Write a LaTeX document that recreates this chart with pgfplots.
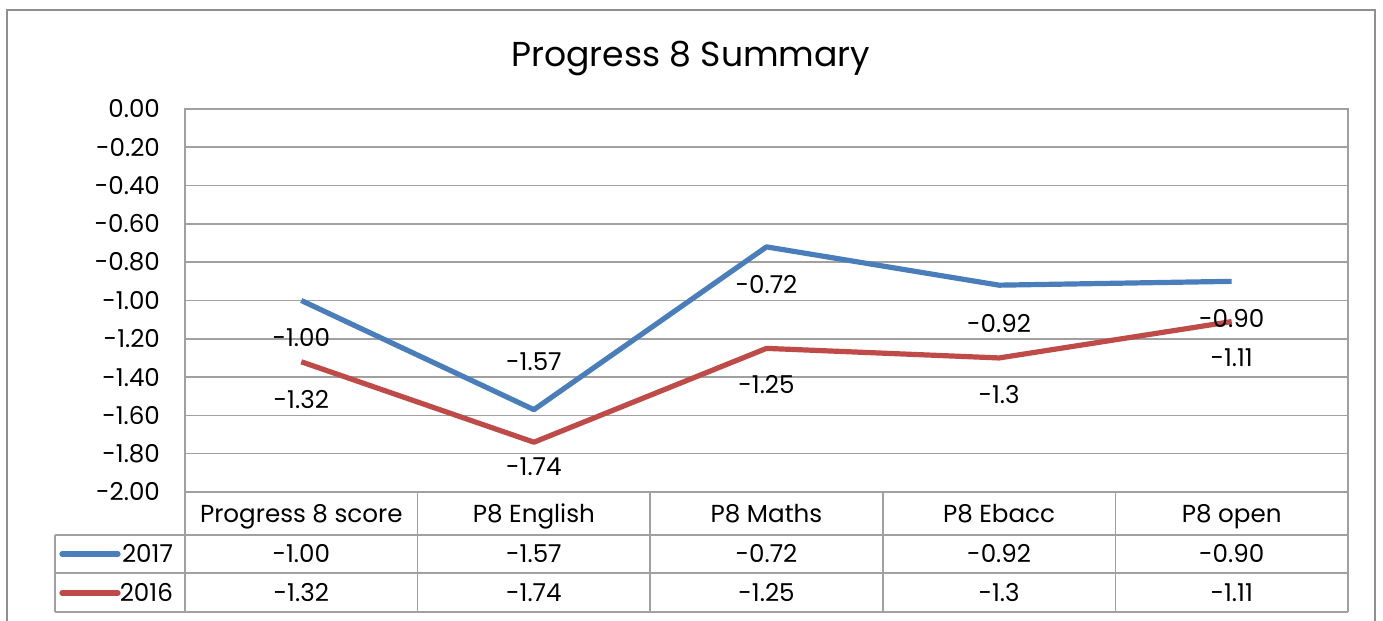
\documentclass[border=0pt]{standalone}
\usepackage{pgfplots}
\pgfplotsset{compat=1.18}
\usepackage{pgfplotstable}
\usepackage{fontspec}
\setmainfont{Poppins}
\definecolor{sblue}{HTML}{4A7EBB}
\definecolor{sred}{HTML}{BE4B48}
\definecolor{gridc}{HTML}{A0A0A0}
\newcommand{\lf}{\fontsize{12.3}{14}\selectfont}
\pgfplotstableread{
x y dy label
0 -1.00 -18.75 -1.00
1 -1.57 23.8 -1.57
2 -0.72 -19 -0.72
3 -0.92 -19 -0.92
4 -0.90 -18.8 -0.90
}\dataA
\pgfplotstableread{
x y dy label
0 -1.32 -19 -1.32
1 -1.74 -12 -1.74
2 -1.25 -18.3 -1.25
3 -1.3 -18.5 -1.3
4 -1.11 -18.2 -1.11
}\dataB
\begin{document}
\begin{tikzpicture}
\path[use as bounding box] (-92.5pt,-64.5pt) rectangle (599pt,246pt);
\draw[gridc!90!black, line width=0.8pt] (-89pt,-80pt) -- (-89pt,241pt) -- (595pt,241pt) -- (595pt,-80pt);
\begin{axis}[
  scale only axis, width=581.5pt, height=191.5pt,
  xmin=-0.5, xmax=4.5, ymin=-2, ymax=0,
  ytick={-2,-1.8,...,0.01},
  xtick={0,1,2,3,4},
  xticklabels={Progress 8 score, P8 English, P8 Maths, P8 Ebacc, P8 open},
  xticklabel style={anchor=base, yshift=-15.5pt, font=\lf},
  yticklabel style={anchor=east, xshift=-9pt, font=\lf},
  /pgf/number format/.cd, fixed, fixed zerofill, precision=2, assume math mode=true, /pgfplots/.cd,
  xmajorgrids=false, ymajorgrids=true,
  major grid style={draw=gridc, line width=0.8pt},
  axis line style={draw=gridc, line width=0.8pt},
  major tick length=0pt,
  clip=false,
  title={Progress 8 Summary},
  title style={font=\fontsize{17.3}{20}\selectfont, at={(0.435,1)}, anchor=south, yshift=7pt},
  point meta=explicit symbolic,
  nodes near coords,
  every node near coord/.append style={anchor=center, font=\lf, yshift=\dy pt, text=black},
  visualization depends on={\thisrow{dy} \as \dy},
]
\addplot[sblue, line width=2.6pt, line join=round] table[x=x, y=y, meta=label] {\dataA};
\addplot[sred, line width=2.6pt, line join=round] table[x=x, y=y, meta=label] {\dataB};
\end{axis}
\begin{scope}[x=0.5pt, y=0.5pt]
\draw[gridc, line width=0.8pt] (-130,-43) -- (1163,-43);
\draw[gridc, line width=0.8pt] (-130,-81) -- (1163,-81);
\draw[gridc, line width=0.8pt] (-130,-120) -- (1163,-120);
\draw[gridc, line width=0.8pt] (-130,-43) -- (-130,-120);
\foreach \xx in {0,232.6,465.2,697.8,930.4,1163} {
  \draw[gridc, line width=0.8pt] (\xx,0) -- (\xx,-120);
}
\draw[sblue, line width=2.6pt, line cap=round] (-123,-62) -- (-67,-62);
\draw[sred, line width=2.6pt, line cap=round] (-123,-101) -- (-67,-101);
\node[anchor=base east, font=\lf] at (-5,-71) {2017};
\node[anchor=base east, font=\lf] at (-5,-110) {2016};
\foreach \v [count=\i from 0] in {-1.00,-1.57,-0.72,-0.92,-0.90} {
  \node[anchor=base, font=\lf] at (116.3+232.6*\i,-71) {\v};
}
\foreach \v [count=\i from 0] in {-1.32,-1.74,-1.25,-1.3,-1.11} {
  \node[anchor=base, font=\lf] at (116.3+232.6*\i,-110) {\v};
}
\end{scope}
\end{tikzpicture}
\end{document}
